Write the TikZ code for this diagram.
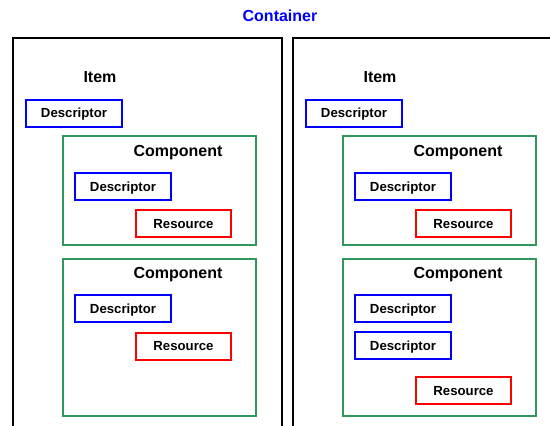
\documentclass[tikz,border=0pt]{standalone}
\usepackage{fontspec}
\setmainfont{Liberation Sans}
\usepackage{xcolor}
\usepackage{tikz}
\usetikzlibrary{positioning}
\definecolor{compgreen}{RGB}{48,152,92}
\newcommand{\bigtxt}{\fontsize{16}{18}\selectfont\bfseries}
\newcommand{\smalltxt}{\fontsize{13.2}{15}\selectfont\bfseries}
\tikzset{
  itembox/.style={
    draw=black,
    line width=2.3pt},
  compbox/.style={
    draw=compgreen,
    line width=2pt,
    minimum width=193pt,
    inner sep=0pt},
  descbox/.style={
    draw=blue,
    line width=2pt,
    minimum width=96pt,
    minimum height=27pt,
    inner sep=0pt,
    text height=9.5pt,
    text depth=0pt,
    font=\smalltxt},
  resbox/.style={
    draw=red,
    line width=2pt,
    minimum width=95pt,
    minimum height=27pt,
    inner sep=0pt,
    text height=9.5pt,
    text depth=0pt,
    font=\smalltxt},
  heading/.style={
    inner sep=0pt,
    text height=11.5pt,
    text depth=0pt,
    font=\bigtxt}
  }

\begin{document}
\begin{tikzpicture}[x=1pt,y=-1pt]
    \useasboundingbox (0,0) rectangle (550,426);
    \clip (0,0) rectangle (550,426);
    \node[heading, text=blue] (cont) at (280,16) {Container};
    % left item
    \draw [itembox] (13,450) -- (13,38) -- (282,38) -- (282,450);
    \node[heading] (itemA) at (100,76.5) {Item};
    \node[descbox] (descA) at (74,113) {Descriptor};
    \node[compbox, minimum height=109pt] (compA) at (159.5,190.5) {};
    \node[heading] (compAt) at (178,150.5) {Component};
    \node[descbox] (descAa) at (123,186.5) {Descriptor};
    \node[resbox] (resAa) at (183.5,223.5) {Resource};
    \node[compbox, minimum height=157pt] (compB) at (159.5,337.5) {};
    \node[heading] (compBt) at (178,272.5) {Component};
    \node[descbox] (descBa) at (123,308.5) {Descriptor};
    \node[resbox] (resBa) at (183.5,346) {Resource};
    % right item
    \draw [itembox] (293,450) -- (293,38) -- (600,38);
    \node[heading] (itemB) at (380,76.5) {Item};
    \node[descbox] (descB) at (354,113) {Descriptor};
    \node[compbox, minimum height=109pt] (compC) at (439.5,190.5) {};
    \node[heading] (compCt) at (458,150.5) {Component};
    \node[descbox] (descCa) at (403,186.5) {Descriptor};
    \node[resbox] (resCa) at (463.5,223.5) {Resource};
    \node[compbox, minimum height=157pt] (compD) at (439.5,337.5) {};
    \node[heading] (compDt) at (458,272.5) {Component};
    \node[descbox] (descDa) at (403,308.5) {Descriptor};
    \node[descbox] (descDb) at (403,345.5) {Descriptor};
    \node[resbox] (resDa) at (463.5,390.5) {Resource};
  \end{tikzpicture}
\end{document}
